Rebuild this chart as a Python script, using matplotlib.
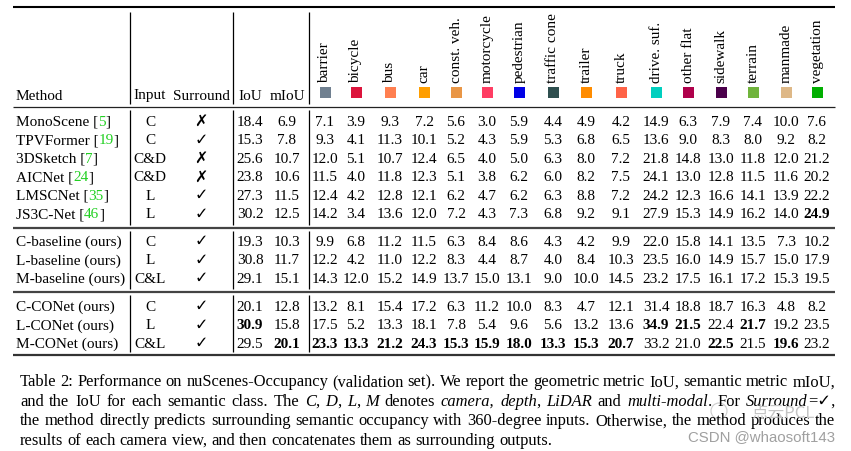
import matplotlib
matplotlib.use("Agg")
import matplotlib.pyplot as plt
from matplotlib.patches import Rectangle, Circle

plt.rcParams['font.family'] = ['Liberation Serif', 'DejaVu Sans']

# --- table data ---------------------------------------------------------
classes = ['barrier', 'bicycle', 'bus', 'car', 'const. veh.', 'motorcycle',
           'pedestrian', 'traffic cone', 'trailer', 'truck', 'drive. suf.',
           'other flat', 'sidewalk', 'terrain', 'manmade', 'vegetation']
class_colors = ['#708090', '#DC143C', '#FF7F50', '#FF9E00', '#E99646', '#FF3D63',
                '#0000E6', '#2F4F4F', '#FF8C00', '#FF6347', '#00CFBF', '#AF004B',
                '#4B004B', '#70B43C', '#DEB887', '#00AF00']

methods = ['MonoScene', 'TPVFormer', '3DSketch', 'AICNet', 'LMSCNet', 'JS3C-Net',
           'C-baseline (ours)', 'L-baseline (ours)', 'M-baseline (ours)',
           'C-CONet (ours)', 'L-CONet (ours)', 'M-CONet (ours)']
refs = ['5', '19', '7', '24', '35', '46', None, None, None, None, None, None]
inputs = ['C', 'C', 'C&D', 'C&D', 'L', 'L', 'C', 'L', 'C&L', 'C', 'L', 'C&L']
surround = [False, True, False, False, True, True, True, True, True, True, True, True]
iou = [18.4, 15.3, 25.6, 23.8, 27.3, 30.2, 19.3, 30.8, 29.1, 20.1, 30.9, 29.5]
miou = [6.9, 7.8, 10.7, 10.6, 11.5, 12.5, 10.3, 11.7, 15.1, 12.8, 15.8, 20.1]
class_iou = [
    [7.1, 3.9, 9.3, 7.2, 5.6, 3.0, 5.9, 4.4, 4.9, 4.2, 14.9, 6.3, 7.9, 7.4, 10.0, 7.6],
    [9.3, 4.1, 11.3, 10.1, 5.2, 4.3, 5.9, 5.3, 6.8, 6.5, 13.6, 9.0, 8.3, 8.0, 9.2, 8.2],
    [12.0, 5.1, 10.7, 12.4, 6.5, 4.0, 5.0, 6.3, 8.0, 7.2, 21.8, 14.8, 13.0, 11.8, 12.0, 21.2],
    [11.5, 4.0, 11.8, 12.3, 5.1, 3.8, 6.2, 6.0, 8.2, 7.5, 24.1, 13.0, 12.8, 11.5, 11.6, 20.2],
    [12.4, 4.2, 12.8, 12.1, 6.2, 4.7, 6.2, 6.3, 8.8, 7.2, 24.2, 12.3, 16.6, 14.1, 13.9, 22.2],
    [14.2, 3.4, 13.6, 12.0, 7.2, 4.3, 7.3, 6.8, 9.2, 9.1, 27.9, 15.3, 14.9, 16.2, 14.0, 24.9],
    [9.9, 6.8, 11.2, 11.5, 6.3, 8.4, 8.6, 4.3, 4.2, 9.9, 22.0, 15.8, 14.1, 13.5, 7.3, 10.2],
    [12.2, 4.2, 11.0, 12.2, 8.3, 4.4, 8.7, 4.0, 8.4, 10.3, 23.5, 16.0, 14.9, 15.7, 15.0, 17.9],
    [14.3, 12.0, 15.2, 14.9, 13.7, 15.0, 13.1, 9.0, 10.0, 14.5, 23.2, 17.5, 16.1, 17.2, 15.3, 19.5],
    [13.2, 8.1, 15.4, 17.2, 6.3, 11.2, 10.0, 8.3, 4.7, 12.1, 31.4, 18.8, 18.7, 16.3, 4.8, 8.2],
    [17.5, 5.2, 13.3, 18.1, 7.8, 5.4, 9.6, 5.6, 13.2, 13.6, 34.9, 21.5, 22.4, 21.7, 19.2, 23.5],
    [23.3, 13.3, 21.2, 24.3, 15.3, 15.9, 18.0, 13.3, 15.3, 20.7, 33.2, 21.0, 22.5, 21.5, 19.6, 23.2],
]
# best values, (row, column) with column -2 = IoU, -1 = mIoU
bold_cells = {(5, 15), (10, -2), (10, 10), (10, 11), (10, 13), (11, -1),
              (11, 0), (11, 1), (11, 2), (11, 3), (11, 4), (11, 5), (11, 6),
              (11, 7), (11, 8), (11, 9), (11, 12), (11, 14)}
section_sizes = [6, 3, 3]

caption_lines = [
    [("Table 2: Performance on nuScenes-Occupancy (validation set). We report the geometric metric IoU, semantic metric mIoU,", 'normal')],
    [("and the IoU for each semantic class.  The ", 'normal'), ("C", 'italic'), (", ", 'normal'),
     ("D", 'italic'), (", ", 'normal'), ("L", 'italic'), (", ", 'normal'), ("M", 'italic'),
     (" denotes ", 'normal'), ("camera, depth", 'italic'), (", ", 'normal'), ("LiDAR", 'italic'),
     (" and ", 'normal'), ("multi-modal", 'italic'), (". For ", 'normal'), ("Surround", 'italic'),
     ("=\u2713,", 'normal')],
    [("the method directly predicts surrounding semantic occupancy with 360-degree inputs.  Otherwise, the method produces the", 'normal')],
    [("results of each camera view, and then concatenates them as surrounding outputs.", 'normal')],
]

# --- layout (pixel coordinates) -----------------------------------------
W, H = 851, 452
fs = 11.0
cap_fs = 11.85
x_left, x_right = 13, 835
x_method = 16
x_input, x_surr = 150, 201
x_iou, x_miou = 250, 287
class_x = [325, 356, 390, 424, 456, 487, 519, 553, 586, 621, 656, 688, 721, 753, 786, 817]
vlines = [130, 233, 308.5]
section_y0 = [126, 246, 311]
row_step = 18.5
cite_green = '#22d022'

fig = plt.figure(figsize=(W / 100, H / 100), dpi=100)
ax = fig.add_axes([0, 0, 1, 1])
ax.set_xlim(0, W)
ax.set_ylim(H, 0)
ax.axis('off')
renderer = fig.canvas.get_renderer()


def width_of(t):
    return t.get_window_extent(renderer).width


def draw_pieces(x, y, pieces, size, color='black'):
    for s, c in pieces:
        t = ax.text(x, y, s, fontsize=size, va='baseline', ha='left', color=c or color)
        x += width_of(t)
    return x


# rules
ax.hlines(8.3, x_left, x_right, color='black', lw=1.5)
ax.hlines(108, x_left, x_right, color='#222222', lw=0.9)
ax.hlines(228.5, x_left, x_right, color='#444444', lw=1.6)
ax.hlines(292.5, x_left, x_right, color='#444444', lw=1.6)
ax.hlines(355.5, x_left, x_right, color='#333333', lw=1.6)
for y0, y1 in [(13, 105), (111, 226), (232, 290), (296, 353)]:
    ax.vlines(vlines, y0, y1, color='black', lw=0.9)

# header
hy = 99.5
ax.text(x_method, hy, 'Method', fontsize=fs, va='baseline', ha='left')
ax.text(x_input, hy, 'Input', fontsize=fs, va='baseline', ha='center')
ax.text(x_surr, hy, 'Surround', fontsize=fs, va='baseline', ha='center')
ax.text(x_iou, hy, 'IoU', fontsize=fs, va='baseline', ha='center')
ax.text(x_miou, hy, 'mIoU', fontsize=fs, va='baseline', ha='center')
for cx, name, col in zip(class_x, classes, class_colors):
    ax.text(cx, 83, name, fontsize=fs, rotation=90, ha='center', va='bottom')
    ax.add_patch(Rectangle((cx - 5.5, 88.3), 11, 10.7, facecolor=col, edgecolor='none'))

# body rows
row_y = []
for y0, n in zip(section_y0, section_sizes):
    row_y += [y0 + i * row_step for i in range(n)]

for r, y in enumerate(row_y):
    if refs[r]:
        draw_pieces(x_method, y, [(methods[r] + ' [', None), (refs[r], cite_green), (']', None)], fs)
    else:
        ax.text(x_method, y, methods[r], fontsize=fs, va='baseline', ha='left')
    ax.text(x_input, y, inputs[r], fontsize=fs, va='baseline', ha='center')
    ax.text(x_surr, y, '\u2713' if surround[r] else '\u2717', fontsize=11.5,
            family='DejaVu Sans', fontweight='bold', va='baseline', ha='center')
    ax.text(x_iou, y, f'{iou[r]:.1f}', fontsize=fs, va='baseline', ha='center',
            fontweight='bold' if (r, -2) in bold_cells else 'normal')
    ax.text(x_miou, y, f'{miou[r]:.1f}', fontsize=fs, va='baseline', ha='center',
            fontweight='bold' if (r, -1) in bold_cells else 'normal')
    for c, cx in enumerate(class_x):
        ax.text(cx, y, f'{class_iou[r][c]:.1f}', fontsize=fs, va='baseline', ha='center',
                fontweight='bold' if (r, c) in bold_cells else 'normal')

# caption, justified like the LaTeX paragraph
cap_x0, cap_x1 = 20, 835
cap_y = [386.5, 406, 425.5, 445]


def split_words(segs):
    words = [[]]
    for txt, sty in segs:
        parts = txt.split(' ')
        for i, p in enumerate(parts):
            if i > 0:
                words.append([])
            if p:
                words[-1].append((p, sty))
    return [w for w in words if w]


probe = ax.text(0, 0, 'a a', fontsize=cap_fs)
probe2 = ax.text(0, 0, 'aa', fontsize=cap_fs)
space_w = width_of(probe) - width_of(probe2)
probe.remove()
probe2.remove()

for li, (segs, y) in enumerate(zip(caption_lines, cap_y)):
    words = split_words(segs)
    artists = []
    widths = []
    for w in words:
        pa = []
        tw = 0
        for s, sty in w:
            t = ax.text(0, y, s, fontsize=cap_fs, style=sty, va='baseline', ha='left')
            pa.append(t)
            tw += width_of(t)
        artists.append(pa)
        widths.append(tw)
    last = li == len(caption_lines) - 1
    gap = space_w if last else (cap_x1 - cap_x0 - sum(widths)) / (len(words) - 1)
    x = cap_x0
    for pa in artists:
        for t in pa:
            t.set_x(x)
            x += width_of(t)
        x += gap

# watermark
ax.add_patch(Circle((719, 412), 8, facecolor='none', edgecolor='#cccccc', lw=0.8))
ax.text(783, 413, '点云PCL', fontsize=12, color='#c4c4c4', ha='center', va='center',
        family=['Noto Sans CJK SC', 'DejaVu Sans'])
ax.text(835, 441.5, 'CSDN @whaosoft143', fontsize=10.8, color='#a0a0a0', ha='right',
        va='baseline', family='Liberation Sans')

fig.savefig('out.png', dpi=100)
